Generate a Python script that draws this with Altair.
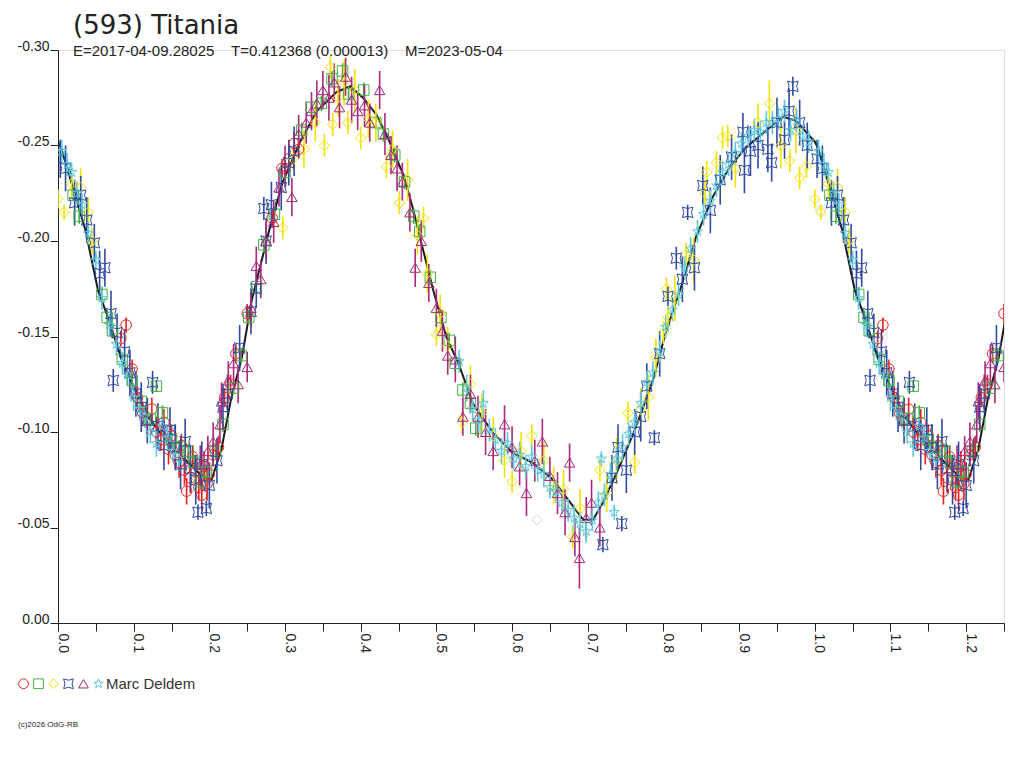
import altair as alt
import pandas as pd

# ---- fitted curve (phase, relative magnitude) ----
curve_phase = [0.0, 0.004, 0.036, 0.053, 0.066, 0.084, 0.102, 0.119, 0.146, 0.172, 0.190, 0.203, 0.216, 0.229,
               0.243, 0.256, 0.280, 0.297, 0.320, 0.342, 0.368, 0.386, 0.403, 0.421, 0.438, 0.456, 0.469,
               0.482, 0.496, 0.513, 0.531, 0.548, 0.575, 0.601, 0.627, 0.654, 0.677, 0.694, 0.707, 0.720,
               0.742, 0.764, 0.786, 0.803, 0.825, 0.843, 0.865, 0.888, 0.909, 0.936, 0.958, 0.975, 0.993]
curve_mag = [-0.252, -0.249, -0.206, -0.174, -0.160, -0.138, -0.122, -0.108, -0.094, -0.084, -0.077, -0.075,
             -0.091, -0.118, -0.139, -0.169, -0.207, -0.231, -0.252, -0.268, -0.278, -0.281, -0.275, -0.266,
             -0.252, -0.235, -0.217, -0.196, -0.174, -0.150, -0.134, -0.115, -0.0995, -0.089, -0.084, -0.075,
             -0.063, -0.054, -0.054, -0.063, -0.082, -0.103, -0.127, -0.152, -0.178, -0.202, -0.223, -0.239,
             -0.249, -0.258, -0.265, -0.263, -0.255]

# ---- series 1: red circles ----
red_phase = [0.083, 0.090, 0.098, 0.105, 0.112, 0.118, 0.124, 0.130, 0.136, 0.140, 0.146, 0.150, 0.155, 0.160,
             0.163, 0.167, 0.170, 0.175, 0.178, 0.182, 0.186, 0.190, 0.193, 0.197, 0.200, 0.205, 0.212, 0.220,
             0.228, 0.235, 0.250, 0.283, 0.296, 0.305, 0.312, 0.318]
red_mag = [-0.149, -0.156, -0.133, -0.118, -0.110, -0.106, -0.112, -0.100, -0.096, -0.105, -0.091, -0.098,
           -0.088, -0.084, -0.093, -0.080, -0.069, -0.076, -0.087, -0.079, -0.071, -0.067, -0.082, -0.073,
           -0.078, -0.088, -0.092, -0.118, -0.125, -0.141, -0.162, -0.212, -0.238, -0.243, -0.251, -0.248]
red_err = [0.004, 0.004, 0.005, 0.006, 0.006, 0.007, 0.006, 0.008, 0.006, 0.007, 0.008, 0.006, 0.007, 0.008,
           0.006, 0.008, 0.007, 0.008, 0.006, 0.009, 0.007, 0.008, 0.008, 0.009, 0.006, 0.006, 0.006, 0.005,
           0.005, 0.005, 0.005, 0.005, 0.005, 0.006, 0.006, 0.005]

# ---- series 2: green squares ----
green_phase = [0.020, 0.028, 0.058, 0.065, 0.072, 0.085, 0.098, 0.110, 0.122, 0.130, 0.138, 0.150, 0.160, 0.172,
               0.180, 0.188, 0.196, 0.208, 0.218, 0.232, 0.242, 0.252, 0.262, 0.272, 0.286, 0.300, 0.322, 0.335,
               0.348, 0.362, 0.376, 0.384, 0.404, 0.420, 0.430, 0.445, 0.458, 0.470, 0.478, 0.492, 0.506, 0.517,
               0.525, 0.535, 0.545, 0.552]
green_mag = [-0.224, -0.213, -0.172, -0.160, -0.153, -0.138, -0.127, -0.116, -0.107, -0.124, -0.110, -0.096,
             -0.092, -0.090, -0.084, -0.074, -0.079, -0.090, -0.104, -0.123, -0.140, -0.160, -0.176, -0.198,
             -0.214, -0.236, -0.258, -0.270, -0.272, -0.285, -0.289, -0.277, -0.279, -0.262, -0.256, -0.245,
             -0.231, -0.213, -0.205, -0.181, -0.160, -0.148, -0.136, -0.122, -0.115, -0.102]
green_err = [0.003, 0.004, 0.004, 0.004, 0.004, 0.003, 0.004, 0.004, 0.003, 0.003, 0.004, 0.004, 0.003, 0.004,
             0.004, 0.004, 0.004, 0.004, 0.004, 0.003, 0.004, 0.004, 0.004, 0.004, 0.004, 0.004, 0.004, 0.004,
             0.004, 0.004, 0.004, 0.004, 0.004, 0.004, 0.004, 0.004, 0.004, 0.004, 0.004, 0.004, 0.004, 0.004,
             0.004, 0.004, 0.004, 0.004]

# ---- series 3: yellow diamonds ----
yellow_phase = [0.000, 0.008, 0.018, 0.030, 0.040, 0.045, 0.297, 0.311, 0.325, 0.340, 0.352, 0.360, 0.363, 0.370,
                0.378, 0.383, 0.392, 0.400, 0.410, 0.420, 0.434, 0.442, 0.451, 0.462, 0.475, 0.483, 0.488, 0.500,
                0.505, 0.515, 0.534, 0.545, 0.560, 0.575, 0.590, 0.600, 0.612, 0.626, 0.642, 0.655, 0.668,
                0.680, 0.690, 0.716, 0.725, 0.738, 0.753, 0.762, 0.770, 0.780, 0.790, 0.800, 0.806, 0.804, 0.815,
                0.830, 0.840, 0.855, 0.857, 0.870, 0.878, 0.885, 0.895, 0.925, 0.940, 0.955, 0.967, 0.980, 0.989,
                0.975]
yellow_mag = [-0.222, -0.215, -0.230, -0.228, -0.215, -0.200, -0.207, -0.243, -0.248, -0.262, -0.250, -0.291,
              -0.261, -0.275, -0.283, -0.262, -0.279, -0.254, -0.264, -0.262, -0.239, -0.248, -0.220, -0.232,
              -0.203, -0.212, -0.183, -0.151, -0.162, -0.145, -0.105, -0.125, -0.110, -0.098, -0.085, -0.074,
              -0.090, -0.098, -0.085, -0.072, -0.070, -0.045, -0.060, -0.080, -0.068, -0.085, -0.110, -0.084,
              -0.112, -0.118, -0.139, -0.152, -0.160, -0.175, -0.170, -0.193, -0.190, -0.225, -0.236, -0.241,
              -0.254, -0.255, -0.238, -0.262, -0.272, -0.250, -0.242, -0.233, -0.239, -0.258]
yellow_err = [0.005, 0.004, 0.008, 0.010, 0.008, 0.007, 0.006, 0.006, 0.010, 0.010, 0.006, 0.006, 0.006, 0.010,
              0.012, 0.006, 0.011, 0.006, 0.010, 0.010, 0.006, 0.010, 0.006, 0.011, 0.010, 0.006, 0.010, 0.006,
              0.010, 0.010, 0.006, 0.010, 0.010, 0.010, 0.009, 0.006, 0.010, 0.006, 0.010, 0.010, 0.010,
              0.006, 0.010, 0.006, 0.010, 0.012, 0.006, 0.006, 0.011, 0.012, 0.010, 0.006, 0.006, 0.006, 0.012,
              0.006, 0.012, 0.006, 0.006, 0.006, 0.006, 0.006, 0.010, 0.010, 0.012, 0.012, 0.006, 0.006, 0.006,
              0.012]

# ---- series 4: blue four-point stars ----
blue_phase = [0.003, 0.010, 0.022, 0.030, 0.038, 0.048, 0.055, 0.062, 0.070, 0.073, 0.078, 0.088, 0.095, 0.103,
              0.110, 0.118, 0.125, 0.132, 0.140, 0.148, 0.155, 0.162, 0.168, 0.175, 0.182, 0.185, 0.190, 0.196,
              0.200, 0.210, 0.218, 0.224, 0.240, 0.255, 0.262, 0.272, 0.275, 0.282, 0.295, 0.305, 0.312,
              0.720, 0.732, 0.740, 0.745, 0.751, 0.762, 0.770, 0.778, 0.788, 0.795, 0.806, 0.817, 0.825, 0.832,
              0.841, 0.852, 0.862, 0.875, 0.890, 0.905, 0.907, 0.915, 0.925, 0.938, 0.943, 0.950, 0.960, 0.966,
              0.971, 0.980, 0.990]
blue_mag = [-0.243, -0.238, -0.220, -0.224, -0.211, -0.199, -0.183, -0.186, -0.162, -0.127, -0.152, -0.142,
            -0.131, -0.120, -0.113, -0.106, -0.126, -0.103, -0.093, -0.101, -0.092, -0.083, -0.095, -0.081,
            -0.075, -0.058, -0.083, -0.060, -0.072, -0.085, -0.113, -0.120, -0.144, -0.163, -0.175, -0.217,
            -0.200, -0.219, -0.228, -0.241, -0.247,
            -0.041, -0.076, -0.092, -0.052, -0.080, -0.100, -0.108, -0.124, -0.097, -0.141, -0.171, -0.191,
            -0.180, -0.215, -0.186, -0.229, -0.216, -0.232, -0.244, -0.257, -0.237, -0.247, -0.250, -0.248,
            -0.241, -0.262, -0.253, -0.268, -0.281, -0.262, -0.250]
blue_err = [0.010, 0.012, 0.012, 0.010, 0.012, 0.010, 0.012, 0.010, 0.012, 0.006, 0.010, 0.012, 0.012, 0.012,
            0.013, 0.012, 0.006, 0.012, 0.013, 0.012, 0.012, 0.013, 0.012, 0.012, 0.013, 0.004, 0.012, 0.004,
            0.012, 0.012, 0.012, 0.010, 0.012, 0.012, 0.010, 0.006, 0.012, 0.012, 0.012, 0.012, 0.013,
            0.004, 0.012, 0.012, 0.004, 0.012, 0.012, 0.013, 0.012, 0.004, 0.012, 0.005, 0.006, 0.012, 0.004,
            0.012, 0.010, 0.012, 0.013, 0.012, 0.010, 0.012, 0.013, 0.012, 0.012, 0.010, 0.013, 0.010, 0.012,
            0.005, 0.012, 0.012]

# ---- series 5: purple triangles ----
purple_phase = [0.188, 0.198, 0.205, 0.214, 0.216, 0.225, 0.232, 0.238, 0.250, 0.255, 0.262, 0.268, 0.275, 0.285,
                0.292, 0.300, 0.309, 0.318, 0.328, 0.335, 0.342, 0.350, 0.358, 0.365, 0.372, 0.380, 0.388, 0.396,
                0.405, 0.412, 0.425, 0.432, 0.440, 0.448, 0.455, 0.465, 0.472, 0.480, 0.490, 0.500, 0.508, 0.515,
                0.525, 0.535, 0.545, 0.555, 0.565, 0.575, 0.590, 0.600, 0.610, 0.619, 0.630, 0.640, 0.650, 0.660,
                0.670, 0.676, 0.683, 0.689, 0.698, 0.705, 0.716]
purple_mag = [-0.083, -0.090, -0.095, -0.104, -0.116, -0.127, -0.136, -0.125, -0.134, -0.165, -0.187, -0.180,
              -0.200, -0.210, -0.228, -0.239, -0.223, -0.256, -0.262, -0.268, -0.272, -0.279, -0.275, -0.283,
              -0.270, -0.286, -0.274, -0.268, -0.271, -0.262, -0.279, -0.256, -0.245, -0.238, -0.231, -0.215,
              -0.186, -0.200, -0.178, -0.165, -0.153, -0.140, -0.138, -0.108, -0.120, -0.108, -0.100, -0.090,
              -0.104, -0.092, -0.082, -0.068, -0.085, -0.095, -0.077, -0.068, -0.058, -0.084, -0.045, -0.034,
              -0.055, -0.063, -0.050]
purple_err = [0.010, 0.008, 0.010, 0.010, 0.010, 0.010, 0.010, 0.010, 0.008, 0.010, 0.010, 0.010, 0.010, 0.011,
              0.010, 0.011, 0.010, 0.010, 0.011, 0.010, 0.012, 0.010, 0.012, 0.010, 0.011, 0.010, 0.012, 0.010,
              0.011, 0.010, 0.010, 0.011, 0.010, 0.012, 0.010, 0.010, 0.010, 0.011, 0.010, 0.010, 0.011, 0.010,
              0.012, 0.010, 0.010, 0.011, 0.012, 0.010, 0.010, 0.011, 0.010, 0.012, 0.011, 0.012, 0.010, 0.011,
              0.012, 0.010, 0.010, 0.016, 0.011, 0.012, 0.010]

# ---- series 6: cyan five-point stars ----
cyan_phase = [0.005, 0.012, 0.018, 0.025, 0.032, 0.040, 0.050, 0.058, 0.068, 0.077, 0.085, 0.092, 0.100, 0.108,
              0.115, 0.122, 0.130, 0.138, 0.145, 0.152, 0.160,
              0.530, 0.540, 0.548, 0.556, 0.562, 0.570, 0.578, 0.586, 0.594, 0.602, 0.610, 0.618, 0.626, 0.634,
              0.642, 0.650, 0.658, 0.666, 0.674, 0.682, 0.690, 0.698, 0.706, 0.714, 0.718, 0.722, 0.730, 0.735,
              0.738, 0.746, 0.754, 0.762, 0.770, 0.778, 0.786, 0.795, 0.803, 0.812, 0.820, 0.828, 0.836, 0.845,
              0.853, 0.862, 0.870, 0.878, 0.886, 0.895, 0.903, 0.912, 0.920, 0.928, 0.936, 0.944, 0.952, 0.960,
              0.968, 0.976, 0.984, 0.992]
cyan_mag = [-0.247, -0.240, -0.236, -0.225, -0.219, -0.204, -0.190, -0.170, -0.156, -0.146, -0.136, -0.130,
            -0.118, -0.112, -0.108, -0.100, -0.094, -0.103, -0.097, -0.090, -0.086,
            -0.137, -0.123, -0.112, -0.106, -0.115, -0.101, -0.096, -0.090, -0.094, -0.086, -0.088, -0.082,
            -0.087, -0.080, -0.078, -0.071, -0.069, -0.063, -0.059, -0.055, -0.052, -0.048, -0.054, -0.063,
            -0.086, -0.067, -0.078, -0.058, -0.086, -0.092, -0.099, -0.105, -0.115, -0.126, -0.131, -0.142,
            -0.155, -0.164, -0.172, -0.186, -0.196, -0.205, -0.214, -0.221, -0.229, -0.236, -0.240, -0.246,
            -0.251, -0.255, -0.258, -0.257, -0.262, -0.262, -0.264, -0.268, -0.258, -0.263, -0.255, -0.252]
cyan_err = [0.006, 0.006, 0.005, 0.006, 0.006, 0.006, 0.005, 0.006, 0.006, 0.006, 0.006, 0.006, 0.007, 0.006,
            0.006, 0.006, 0.007, 0.006, 0.006, 0.006, 0.007,
            0.006, 0.007, 0.006, 0.006, 0.007, 0.006, 0.006, 0.007, 0.006, 0.006, 0.007, 0.006, 0.006, 0.006,
            0.007, 0.006, 0.006, 0.006, 0.006, 0.007, 0.006, 0.006, 0.006, 0.006, 0.004, 0.006, 0.006, 0.004,
            0.006, 0.007, 0.006, 0.006, 0.006, 0.006, 0.006, 0.006, 0.006, 0.006, 0.006, 0.006, 0.006, 0.006,
            0.006, 0.006, 0.006, 0.006, 0.006, 0.006, 0.006, 0.006, 0.006, 0.006, 0.006, 0.006, 0.006, 0.006,
            0.006, 0.006, 0.006, 0.006]

# ---- rejected points (light grey diamonds, plotted as is) ----
grey_phase = [0.452, 0.633, 1.008]
grey_mag = [-0.220, -0.054, -0.216]

series_names = ["s1", "s2", "s3", "s4", "s5", "s6"]
series_colors = ["#e82222", "#44b044", "#f2e200", "#2f4a9e", "#a8287c", "#5ec8dc"]
star4 = "M-1,-1 Q0,-0.45 1,-1 Q0.45,0 1,1 Q0,0.45 -1,1 Q-0.45,0 -1,-1 Z"
star5 = ("M0,-1 L0.235,-0.324 L0.951,-0.309 L0.380,0.124 L0.588,0.809 L0,0.4 L-0.588,0.809 "
         "L-0.380,0.124 L-0.951,-0.309 L-0.235,-0.324 Z")
series_shapes = ["circle", "square", "diamond", star4, "triangle-up", star5]
observer = "Marc Deldem"
title_text = "(593) Titania"
subtitle_text = "E=2017-04-09.28025\u00a0\u00a0\u00a0\u00a0T=0.412368 (0.000013)\u00a0\u00a0\u00a0\u00a0M=2023-05-04"
copyright_text = "(c)2026 OdG-RB"

# ---- build tables ----
rows = []
for name, ph, mg, er in zip(series_names,
                            [red_phase, green_phase, yellow_phase, blue_phase, purple_phase, cyan_phase],
                            [red_mag, green_mag, yellow_mag, blue_mag, purple_mag, cyan_mag],
                            [red_err, green_err, yellow_err, blue_err, purple_err, cyan_err]):
    for p, m, e in zip(ph, mg, er):
        rows.append({"series": name, "phase": p, "mag": m, "lo": m - e, "hi": m + e})
pts = pd.DataFrame(rows)
rep = pts[pts.phase <= 0.25].copy()
rep["phase"] = rep["phase"] + 1.0
pts = pd.concat([pts, rep], ignore_index=True)

cur = pd.DataFrame({"phase": curve_phase, "mag": curve_mag})
crep = cur[cur.phase <= 0.26].copy()
crep["phase"] = crep["phase"] + 1.0
cur = pd.concat([cur, crep], ignore_index=True)

grey = pd.DataFrame({"phase": grey_phase, "mag": grey_mag})

FONT = "Liberation Sans"
TXT = "#222222"

xscale = alt.Scale(domain=[0, 1.25], nice=False, zero=False)
yscale = alt.Scale(domain=[-0.30, 0.0], reverse=True, nice=False, zero=False)
xticks = [round(i * 0.05, 2) for i in range(26)]
yticks = [-0.30, -0.25, -0.20, -0.15, -0.10, -0.05, 0.0]

xaxis = alt.Axis(values=xticks, title=None, grid=False, labelAngle=90, labelAlign="left",
                 labelBaseline="alphabetic", labelPadding=2, tickSize=8,
                 labelExpr="round(datum.value*100) % 10 == 0 ? format(datum.value, '.1f') : ''",
                 labelFont=FONT, labelFontSize=14, labelColor=TXT, domainColor=TXT, tickColor=TXT,
                 labelOverlap=False, labelFlush=False, labelBound=False)
yaxis = alt.Axis(values=yticks, title=None, grid=False, labelBaseline="alphabetic",
                 labelExpr="datum.value < 0 ? '-' + format(-datum.value, '.2f') : format(datum.value, '.2f')",
                 labelPadding=1, tickSize=8, labelFont=FONT, labelFontSize=14, labelColor=TXT,
                 domainColor=TXT, tickColor=TXT, labelOverlap=False, labelFlush=False, labelBound=False)

legend = alt.Legend(title=None, orient="none", legendX=-42, legendY=626, direction="horizontal",
                    labelExpr=f"datum.label == 's6' ? '{observer}' : ''",
                    labelFont=FONT, labelFontSize=15, labelColor="#333333", symbolSize=95,
                    symbolStrokeWidth=1, labelOffset=0, columnPadding=0)

color = alt.Color("series:N", scale=alt.Scale(domain=series_names, range=series_colors), legend=legend)
shape = alt.Shape("series:N", scale=alt.Scale(domain=series_names, range=series_shapes), legend=legend)

line = alt.Chart(cur).mark_line(color="#1a1a1a", strokeWidth=2, clip=True).encode(
    x=alt.X("phase:Q", scale=xscale, axis=xaxis),
    y=alt.Y("mag:Q", scale=yscale, axis=yaxis),
)

bars = alt.Chart(pts).mark_rule(strokeWidth=1.6, clip=True).encode(
    x=alt.X("phase:Q", scale=xscale, axis=xaxis),
    y=alt.Y("lo:Q", scale=yscale, axis=yaxis),
    y2="hi:Q",
    color=color,
)

points = alt.Chart(pts).mark_point(filled=False, strokeWidth=1, size=110, opacity=1, clip=True).encode(
    x=alt.X("phase:Q", scale=xscale, axis=xaxis),
    y=alt.Y("mag:Q", scale=yscale, axis=yaxis),
    color=color,
    shape=shape,
)

greypts = alt.Chart(grey).mark_point(shape="diamond", filled=False, color="#d4d4d4", size=110,
                                     strokeWidth=1, opacity=1).encode(
    x=alt.X("phase:Q", scale=xscale, axis=xaxis),
    y=alt.Y("mag:Q", scale=yscale, axis=yaxis),
)

copy = alt.Chart(pd.DataFrame({"t": [copyright_text]})).mark_text(
    align="left", baseline="middle", font=FONT, fontSize=8, color=TXT
).encode(x=alt.value(-40), y=alt.value(675), text="t:N")

chart = alt.layer(line, greypts, bars, points, copy).properties(
    width=946, height=573,
    autosize=alt.AutoSizeParams(type="none"),
    padding={"left": 50, "top": 42, "right": 10, "bottom": 110},
    title=alt.TitleParams(text=title_text, subtitle=subtitle_text, anchor="start", frame="group",
                          dx=15, offset=-20, font="DejaVu Sans", fontSize=26, fontWeight="normal", color=TXT,
                          subtitleFont=FONT, subtitleFontSize=15, subtitleColor=TXT, subtitlePadding=5),
).configure_view(stroke=None).configure(background="white")

chart.save("out.html", embed_options={"renderer": "svg", "actions": False})
